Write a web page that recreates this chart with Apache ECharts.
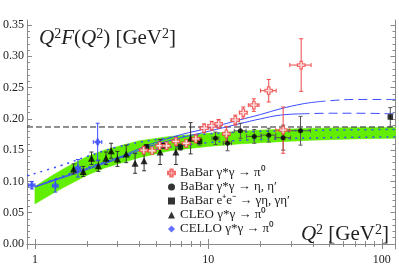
<!DOCTYPE html>
<html><head><meta charset="utf-8">
<script src="https://cdn.jsdelivr.net/npm/echarts@6/dist/echarts.min.js"></script>
<style>html,body{margin:0;padding:0;background:#fff}#c{width:399px;height:268px}</style>
</head><body><div id="c"></div>
<script>
// ---------- data ----------
const xMajorTicks = [1, 10, 100];
const xMinorTicks = [2,3,4,5,6,7,8,9,20,30,40,50,60,70,80,90];
const yMajorTicks = [0, 0.05, 0.10, 0.15, 0.20, 0.25, 0.30, 0.35];
const yMinorTicks = [0.01,0.02,0.03,0.04,0.06,0.07,0.08,0.09,0.11,0.12,0.13,0.14,0.16,0.17,0.18,0.19,0.21,0.22,0.23,0.24,0.26,0.27,0.28,0.29,0.31,0.32,0.33,0.34];

// green band
const bandQ     = [1.0, 1.25, 1.5, 2, 2.5, 3, 4, 6, 10, 15, 20, 40, 70, 120];
const bandLower = [0.064, 0.080, 0.092, 0.110, 0.121, 0.128, 0.138, 0.149, 0.156, 0.160, 0.162, 0.166, 0.168, 0.169];
const bandUpper = [0.092, 0.109, 0.122, 0.140, 0.150, 0.156, 0.165, 0.172, 0.177, 0.180, 0.182, 0.185, 0.186, 0.186];

// blue curves
const curveAQ = [1, 2, 3, 4.6, 7, 10, 15, 20, 26, 35, 42];
const curveAF = [0.092, 0.121, 0.138, 0.159, 0.175, 0.185, 0.198, 0.207, 0.216, 0.224, 0.227];
const curveADashQ = [42, 50, 70, 120];
const curveADashF = [0.227, 0.229, 0.231, 0.231];
const curveBQ = [1, 2, 3, 4.6, 7, 10, 15, 20, 26, 34];
const curveBF = [0.091, 0.119, 0.136, 0.156, 0.170, 0.180, 0.192, 0.200, 0.206, 0.208];
const curveBDashQ = [34, 50, 70, 120];
const curveBDashF = [0.208, 0.209, 0.209, 0.208];
const curveCQ = [0.9, 1.4, 2, 3, 5, 10, 20, 50, 120];
const curveCF = [0.109, 0.125, 0.140, 0.155, 0.167, 0.176, 0.180, 0.182, 0.183];
const curveDQ = [1.2, 1.5, 2, 3, 5, 10, 20, 50, 120];
const curveDF = [0.100, 0.110, 0.122, 0.137, 0.151, 0.162, 0.167, 0.170, 0.171];
const asymptote = 0.187;

// CELLO
const celloQ = [0.96, 1.31, 1.77, 2.30];
const celloF = [0.094, 0.093, 0.121, 0.163];
const celloErr = [0.006, 0.010, 0.014, 0.030];
const celloXErr = [0.04, 0.05, 0.06, 0.13];

// CLEO
const cleoQ = [1.67, 1.90, 2.12, 2.32, 2.57, 2.75, 2.99, 3.36, 3.78, 4.26, 5.27, 6.5, 7.9];
const cleoF = [0.120, 0.116, 0.137, 0.125, 0.137, 0.149, 0.136, 0.144, 0.129, 0.133, 0.147, 0.147, 0.169];
const cleoErr = [0.008, 0.008, 0.010, 0.009, 0.010, 0.012, 0.012, 0.014, 0.016, 0.016, 0.020, 0.020, 0.025];

// BaBar pi0
const babarPiQ = [4.24, 4.74, 5.24, 5.74, 6.5, 7.45, 8.46, 9.46, 10.46, 11.46, 12.7, 14.3, 15.9, 18.3, 22.3, 27.0, 34.3];
const babarPiF = [0.150, 0.149, 0.157, 0.157, 0.164, 0.161, 0.168, 0.185, 0.189, 0.192, 0.176, 0.198, 0.210, 0.222, 0.245, 0.182, 0.286];
const babarPiErr = [0.005, 0.005, 0.005, 0.005, 0.006, 0.006, 0.006, 0.007, 0.007, 0.007, 0.012, 0.008, 0.009, 0.010, 0.018, 0.037, 0.042];
const babarPiXErr = [0.24, 0.24, 0.24, 0.24, 0.3, 0.4, 0.5, 0.5, 0.5, 0.5, 0.6, 0.8, 0.8, 1.3, 2.3, 2.5, 4.8];

// BaBar eta, eta'
const babarEtaQ = [11.0, 12.9, 15.3, 18.4, 22.3, 27.0, 34.0];
const babarEtaF = [0.169, 0.161, 0.181, 0.172, 0.174, 0.170, 0.181];
const babarEtaErr = [0.010, 0.012, 0.012, 0.011, 0.011, 0.020, 0.023];
const babarEtaXErr = [0.5, 0.7, 1.2, 1.8, 2.2, 2.8, 4.8];

// BaBar e+e- (squares)
const babarEEQ = [4.4, 5.5, 6.9, 8.9, 112];
const babarEEF = [0.155, 0.157, 0.155, 0.164, 0.203];
const babarEEErr = [0.004, 0.004, 0.005, 0.006, 0.015];

const names = ['BaBar γ*γ → π⁰', 'BaBar γ*γ → η, η′', 'BaBar e⁺e⁻ → γη, γη′', 'CLEO γ*γ → π⁰', 'CELLO γ*γ → π⁰'];

// ---------- chart ----------
const FONT = 'Liberation Serif';
const RED = '#f04848', BLUE = '#3a4cff', GREEN = '#62ee00';
const zip = (a, b) => a.map((v, i) => [v, b[i]]);

function errData(q, f, ey, ex) {
  return q.map((x, i) => [x, f[i], f[i] - ey[i], f[i] + ey[i], x - (ex ? ex[i] : 0), x + (ex ? ex[i] : 0)]);
}
function errSeries(q, f, ey, ex, color) {
  return {
    type: 'custom', z: 5, silent: true,
    data: errData(q, f, ey, ex),
    encode: { x: [0, 4, 5], y: [1, 2, 3] },
    renderItem: function (params, api) {
      const x = api.value(0), y = api.value(1);
      const lo = api.coord([x, api.value(2)]), hi = api.coord([x, api.value(3)]);
      const xl = api.coord([api.value(4), y]), xh = api.coord([api.value(5), y]);
      const st = { stroke: color, lineWidth: 1 };
      const c = [];
      const cap = 2;
      c.push({ type: 'line', shape: { x1: lo[0], y1: lo[1], x2: hi[0], y2: hi[1] }, style: st });
      c.push({ type: 'line', shape: { x1: lo[0] - cap, y1: lo[1], x2: lo[0] + cap, y2: lo[1] }, style: st });
      c.push({ type: 'line', shape: { x1: hi[0] - cap, y1: hi[1], x2: hi[0] + cap, y2: hi[1] }, style: st });
      if (xh[0] - xl[0] > 1) {
        c.push({ type: 'line', shape: { x1: xl[0], y1: xl[1], x2: xh[0], y2: xh[1] }, style: st });
        c.push({ type: 'line', shape: { x1: xl[0], y1: xl[1] - cap, x2: xl[0], y2: xl[1] + cap }, style: st });
        c.push({ type: 'line', shape: { x1: xh[0], y1: xh[1] - cap, x2: xh[0], y2: xh[1] + cap }, style: st });
      }
      return { type: 'group', children: c };
    }
  };
}
function curve(q, f, type, width) {
  return { type: 'line', z: 3, smooth: 0.4, showSymbol: false, silent: true, data: zip(q, f),
    lineStyle: { color: BLUE, width: width || 1, type: type || 'solid' } };
}

const axisColor = '#8a8a8a';
const labelStyle = { fontFamily: FONT, fontSize: 12, color: '#222' };
const crossPath = 'path://M3,0H6V3H9V6H6V9H3V6H0V3H3Z';
const titleRich = {
  i: { fontFamily: FONT, fontSize: 21, fontStyle: 'italic', color: '#222', lineHeight: 23 },
  n: { fontFamily: FONT, fontSize: 21, color: '#222', lineHeight: 23 },
  s: { fontFamily: FONT, fontSize: 14, color: '#222', lineHeight: 23, verticalAlign: 'top' }
};

const option = {
  animation: false,
  backgroundColor: '#fff',
  grid: [
    { left: 27, right: 3.5, top: 20, bottom: 19 },
    { left: 27, right: 3.5, top: 20, bottom: 19 }
  ],
  title: [
    { left: 34, top: 22, text: '{i|Q}{s|2}{i|F}{n|(}{i|Q}{s|2}{n|) [GeV}{s|2}{n|]}',
      textStyle: { fontFamily: FONT, fontSize: 21, fontWeight: 'normal', color: '#222', rich: titleRich } },
    { right: 5, top: 218, text: '{i|Q}{s|2}{n| [GeV}{s|2}{n|]}',
      textStyle: { fontFamily: FONT, fontSize: 21, fontWeight: 'normal', color: '#222', rich: titleRich } }
  ],
  legend: {
    orient: 'vertical', left: 167, top: 166, padding: 0, itemWidth: 7, itemHeight: 7, itemGap: 0,
    textStyle: { fontFamily: FONT, fontSize: 13, color: '#222', lineHeight: 14 },
    data: names
  },
  xAxis: [
    { gridIndex: 0, type: 'log', min: 0.9, max: 120, position: 'bottom',
      axisLine: { lineStyle: { color: axisColor } },
      axisTick: { inside: true, length: 5, customValues: xMajorTicks, lineStyle: { color: axisColor } },
      axisLabel: { customValues: xMajorTicks, formatter: v => String(Math.round(v)), margin: 5, ...labelStyle },
      splitLine: { show: false }, minorTick: { show: false } },
    { gridIndex: 0, type: 'log', min: 0.9, max: 120, position: 'top',
      axisLine: { lineStyle: { color: axisColor } },
      axisTick: { inside: true, length: 5, customValues: xMajorTicks, lineStyle: { color: axisColor } },
      axisLabel: { show: false }, splitLine: { show: false } },
    { gridIndex: 1, type: 'log', min: 0.9, max: 120, position: 'bottom',
      axisLine: { show: false },
      axisTick: { inside: true, length: 3, customValues: xMinorTicks, lineStyle: { color: axisColor } },
      axisLabel: { show: false }, splitLine: { show: false } },
    { gridIndex: 1, type: 'log', min: 0.9, max: 120, position: 'top',
      axisLine: { show: false },
      axisTick: { inside: true, length: 3, customValues: xMinorTicks, lineStyle: { color: axisColor } },
      axisLabel: { show: false }, splitLine: { show: false } }
  ],
  yAxis: [
    { gridIndex: 0, type: 'value', min: -0.008, max: 0.358, position: 'left',
      axisLine: { show: true, lineStyle: { color: axisColor } },
      axisTick: { show: true, inside: true, length: 5, customValues: yMajorTicks, lineStyle: { color: axisColor } },
      axisLabel: { customValues: yMajorTicks, formatter: v => v.toFixed(2), margin: 3, ...labelStyle },
      splitLine: { show: false } },
    { gridIndex: 0, type: 'value', min: -0.008, max: 0.358, position: 'right',
      axisLine: { show: true, lineStyle: { color: axisColor } },
      axisTick: { show: true, inside: true, length: 5, customValues: yMajorTicks, lineStyle: { color: axisColor } },
      axisLabel: { show: false }, splitLine: { show: false } },
    { gridIndex: 1, type: 'value', min: -0.008, max: 0.358, position: 'left',
      axisLine: { show: false },
      axisTick: { show: true, inside: true, length: 3, customValues: yMinorTicks, lineStyle: { color: axisColor } },
      axisLabel: { show: false }, splitLine: { show: false } },
    { gridIndex: 1, type: 'value', min: -0.008, max: 0.358, position: 'right',
      axisLine: { show: false },
      axisTick: { show: true, inside: true, length: 3, customValues: yMinorTicks, lineStyle: { color: axisColor } },
      axisLabel: { show: false }, splitLine: { show: false } }
  ],
  series: [
    // band as one polygon built from the band arrays
    { type: 'custom', z: 1, silent: true,
      data: bandQ.map((q, i) => [q, bandLower[i], bandUpper[i]]),
      encode: { x: 0, y: [1, 2] },
      renderItem: function (params, api) {
        if (params.dataIndexInside !== 0) return null;
        const n = params.dataInsideLength;
        const top = [], bot = [];
        for (let i = 0; i < n; i++) {
          const q = api.value(0, i);
          top.push(api.coord([q, api.value(2, i)]));
          bot.push(api.coord([q, api.value(1, i)]));
        }
        return { type: 'polygon', shape: { points: top.concat(bot.reverse()) },
          style: { fill: GREEN, stroke: GREEN, lineWidth: 0.5 } };
      } },
    // asymptote
    { type: 'line', z: 3, silent: true, showSymbol: false, data: [[0.9, asymptote], [120, asymptote]],
      lineStyle: { color: '#222', width: 1, type: [6, 3] } },
    curve(curveAQ, curveAF),
    curve(curveADashQ, curveADashF, [9, 5]),
    curve(curveBQ, curveBF),
    curve(curveBDashQ, curveBDashF, [9, 5]),
    curve(curveCQ, curveCF, [2, 5], 1.5),
    curve(curveDQ, curveDF, [2, 5], 1.5),
    // error bars
    errSeries(cleoQ, cleoF, cleoErr, null, '#333'),
    errSeries(babarEtaQ, babarEtaF, babarEtaErr, babarEtaXErr, '#555'),
    errSeries(babarEEQ, babarEEF, babarEEErr, null, '#555'),
    errSeries(celloQ, celloF, celloErr, celloXErr, BLUE),
    errSeries(babarPiQ, babarPiF, babarPiErr, babarPiXErr, RED),
    // markers
    { name: names[0], type: 'scatter', z: 8, symbol: crossPath, symbolSize: 7.5, data: zip(babarPiQ, babarPiF),
      itemStyle: { color: '#fff', borderColor: RED, borderWidth: 1.2 } },
    { name: names[1], type: 'scatter', z: 7, symbol: 'circle', symbolSize: 5, data: zip(babarEtaQ, babarEtaF),
      itemStyle: { color: '#000' } },
    { name: names[2], type: 'scatter', z: 7, symbol: 'rect', symbolSize: 5.5, data: zip(babarEEQ, babarEEF),
      itemStyle: { color: '#000' } },
    { name: names[3], type: 'scatter', z: 7, symbol: 'triangle', symbolSize: 7, data: zip(cleoQ, cleoF),
      itemStyle: { color: '#000' } },
    { name: names[4], type: 'scatter', z: 7, symbol: 'diamond', symbolSize: [6, 9], data: zip(celloQ, celloF),
      itemStyle: { color: BLUE } }
  ]
};
const chart = echarts.init(document.getElementById('c'), null, { renderer: 'canvas' });
chart.setOption(option);
</script></body></html>
